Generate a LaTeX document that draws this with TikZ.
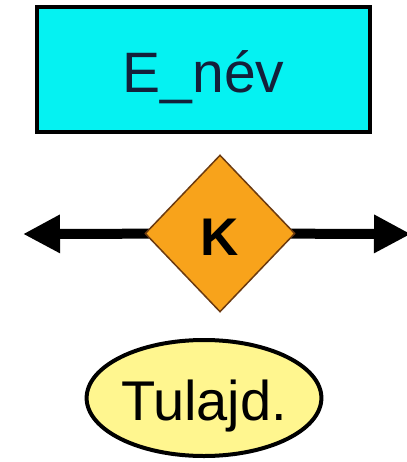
\documentclass[tikz,border=0pt]{standalone}
\usepackage{fontspec}
\setmainfont{Liberation Sans}
\usetikzlibrary{shapes.geometric,arrows.meta,backgrounds}

\definecolor{entcyan}{HTML}{05F2F2}
\definecolor{relorange}{HTML}{F8A31B}
\definecolor{relborder}{HTML}{6B3A10}
\definecolor{attryellow}{HTML}{FFF68F}
\definecolor{entink}{HTML}{14203A}

\begin{document}
\begin{tikzpicture}[x=1pt,y=1pt,
    entity/.style={draw,line width=4pt,fill=entcyan,text=entink,
                   minimum width=333pt,minimum height=125pt,inner sep=0pt,
                   font=\fontsize{57}{60}\selectfont,text height=46pt,text depth=0pt},
    relation/.style={diamond,draw=relborder,line width=1.5pt,fill=relorange,
                   minimum width=150pt,minimum height=157pt,inner sep=0pt,
                   font=\fontsize{53}{56}\selectfont\bfseries,text height=43pt,text depth=0pt},
    attrib/.style={ellipse,draw,line width=4pt,fill=attryellow,
                   minimum width=228pt,minimum height=116pt,inner sep=0pt,
                   font=\fontsize{56}{60}\selectfont,text height=44pt,text depth=0pt},
    link/.style={line width=10pt,-{Triangle[length=37pt,width=36pt]}}]
\useasboundingbox (0,0) rectangle (406,-462);

\node [entity]   (enev)  at (203.5, -70  ) {E\_név};
\node [relation] (kap)   at (220  ,-233.5) {K};
\node [attrib]   (tul)   at (204  ,-398  ) {Tulajd.};

\coordinate (bal)  at ( 23,-234);
\coordinate (jobb) at (411,-234);

% lines go under the diamond
\begin{scope}[on background layer]
\draw [link] (kap.center) -- (bal);
\draw [link] (kap.center) -- (jobb);
\end{scope}
\end{tikzpicture}
\end{document}
